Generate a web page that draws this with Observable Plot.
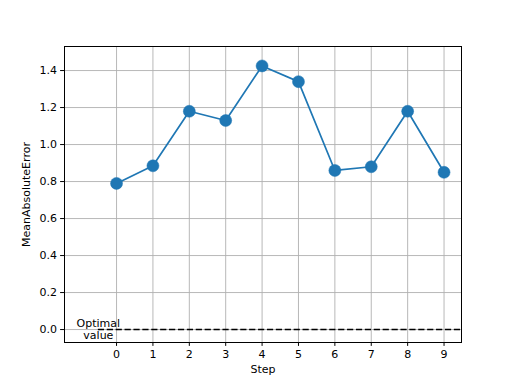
<!DOCTYPE html>
<html>
<head>
<meta charset="utf-8">
<script src="https://cdn.jsdelivr.net/npm/d3@7"></script>
<script src="https://cdn.jsdelivr.net/npm/@observablehq/plot@0.6"></script>
<style>
  html, body { margin: 0; padding: 0; background: #fff; }
  svg { display: block; }
</style>
</head>
<body>
<div id="chart"></div>
<script>
const steps = [0, 1, 2, 3, 4, 5, 6, 7, 8, 9];
const mae = [0.79, 0.885, 1.18, 1.13, 1.425, 1.34, 0.86, 0.88, 1.18, 0.85];
const xTicks = [0, 1, 2, 3, 4, 5, 6, 7, 8, 9];
const yTicks = [0, 0.2, 0.4, 0.6, 0.8, 1.0, 1.2, 1.4];
const optimalValue = 0;
const optimalLabel = "Optimal\nvalue";
const optimalSpan = [-0.5, 9.5];

const data = steps.map((s, i) => ({step: s, mae: mae[i]}));
const blue = "#1f77b4";

const plot = Plot.plot({
  width: 512,
  height: 384,
  marginLeft: 64,
  marginRight: 51,
  marginTop: 46,
  marginBottom: 42,
  style: {fontFamily: "DejaVu Sans", fontSize: "11px", background: "#fff", color: "#000"},
  x: {domain: [-1.43, 9.48], ticks: xTicks, label: null, axis: null},
  y: {domain: [-0.07, 1.53], ticks: yTicks, label: null, axis: null},
  marks: [
    Plot.gridX(xTicks, {stroke: "#b0b0b0", strokeOpacity: 1, strokeWidth: 0.9}),
    Plot.gridY(yTicks, {stroke: "#b0b0b0", strokeOpacity: 1, strokeWidth: 0.9}),
    Plot.axisX(xTicks, {tickSize: 3.9, tickPadding: 3.5, tickFormat: d => String(d), label: "Step", labelAnchor: "center", labelArrow: "none", labelOffset: 30, fontSize: 11, stroke: "#000"}),
    Plot.axisY(yTicks, {tickSize: 3.9, tickPadding: 3.5, tickFormat: d3.format(".1f"), label: "MeanAbsoluteError", labelAnchor: "center", labelArrow: "none", labelOffset: 42, fontSize: 11, stroke: "#000"}),
    Plot.ruleY([optimalValue], {x1: optimalSpan[0], x2: optimalSpan[1], stroke: "#000", strokeWidth: 1.6, strokeDasharray: "6.2,2.7", clip: true}),
    Plot.text([optimalLabel], {x: -0.5, y: optimalValue, text: d => d, fontSize: 11, lineHeight: 1.1, textAnchor: "middle", dx: 0, fill: "#000"}),
    Plot.line(data, {x: "step", y: "mae", stroke: blue, strokeWidth: 1.7}),
    Plot.dot(data, {x: "step", y: "mae", r: 6, fill: blue, stroke: blue, strokeWidth: 0.5}),
    Plot.frame({stroke: "#000", strokeWidth: 1})
  ]
});
document.getElementById("chart").appendChild(plot);
</script>
</body>
</html>
